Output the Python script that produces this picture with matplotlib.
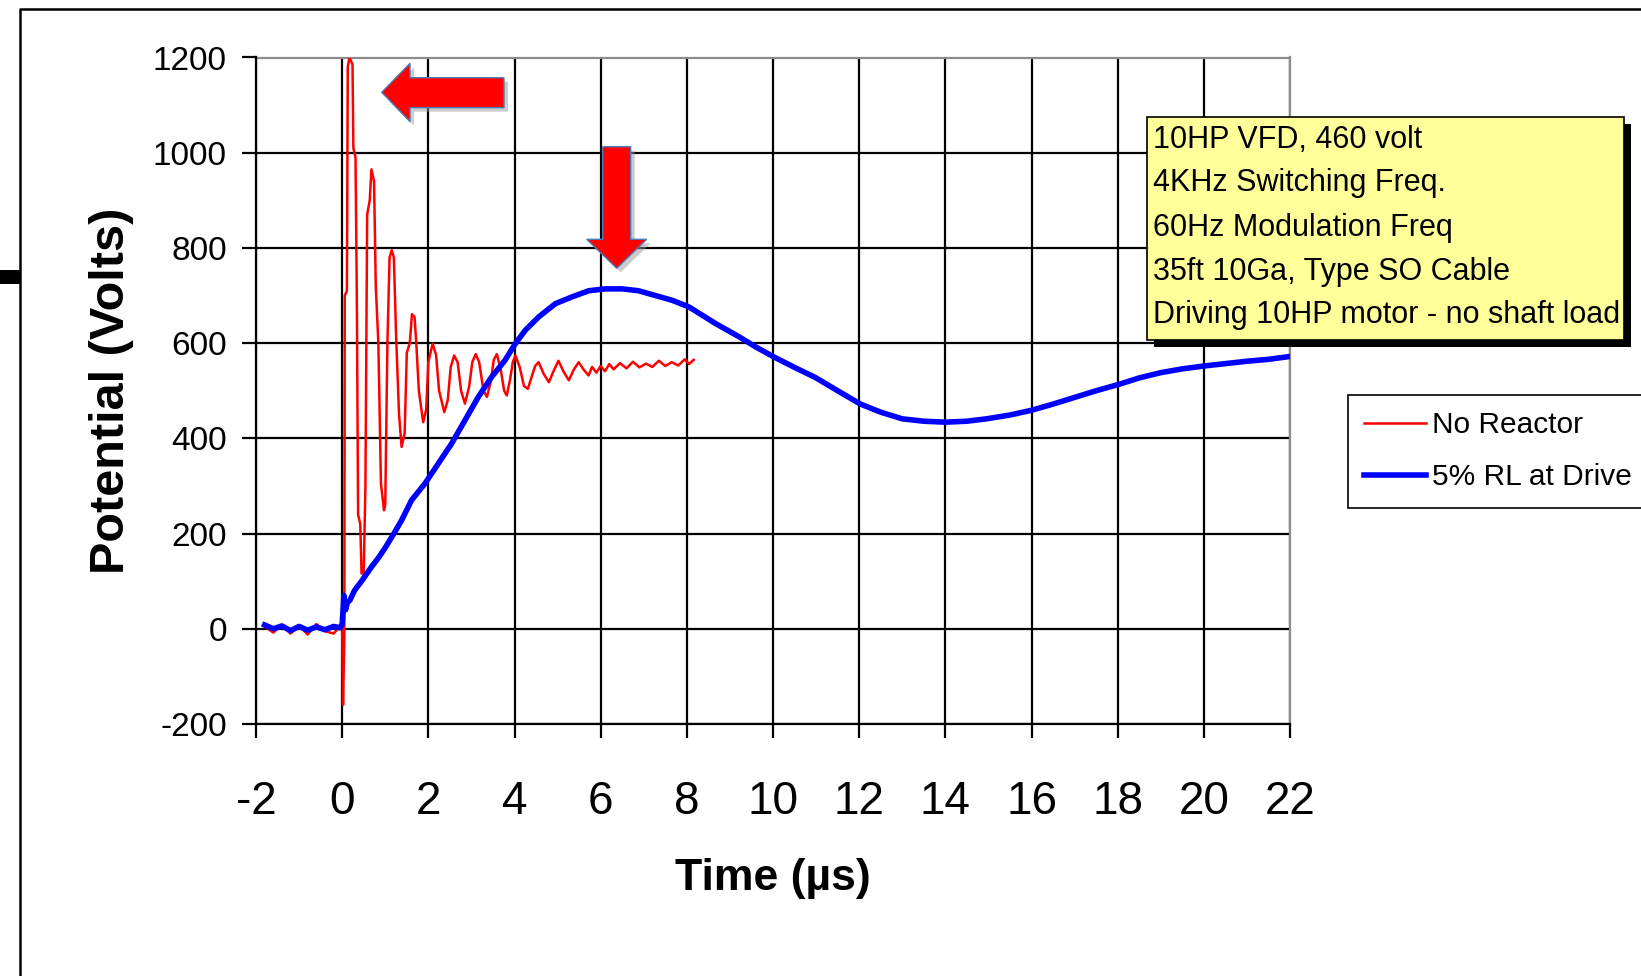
import matplotlib
matplotlib.use("Agg")
import matplotlib.pyplot as plt
from matplotlib.patches import Polygon, Rectangle
from matplotlib.lines import Line2D

plt.rcParams['font.family'] = ['Liberation Sans', 'DejaVu Sans']
plt.rcParams['axes.unicode_minus'] = False

# ---------------- data ----------------
red_t = [-1.8, -1.6, -1.4, -1.2, -1.0, -0.8, -0.6, -0.4, -0.2, -0.05, 0.0, 0.02, 0.05, 0.06,
         0.11, 0.13, 0.17, 0.24, 0.26, 0.31, 0.34, 0.37, 0.42, 0.45, 0.5, 0.54, 0.58, 0.64,
         0.68, 0.74, 0.78, 0.84, 0.9, 0.97, 1.0, 1.05, 1.1, 1.15, 1.2, 1.25, 1.32, 1.38, 1.45,
         1.5, 1.57, 1.62, 1.68, 1.72, 1.78, 1.88, 1.95, 2.0, 2.1, 2.18, 2.25, 2.37, 2.45, 2.52,
         2.6, 2.68, 2.76, 2.85, 2.95, 3.02, 3.1, 3.18, 3.28, 3.36, 3.45, 3.52, 3.59, 3.68, 3.76,
         3.82, 3.9, 3.96, 4.02, 4.12, 4.22, 4.31, 4.4, 4.48, 4.56, 4.68, 4.8, 4.9, 5.02, 5.14,
         5.26, 5.38, 5.49, 5.6, 5.72, 5.8, 5.9, 6.0, 6.1, 6.2, 6.3, 6.45, 6.6, 6.75, 6.9, 7.05,
         7.2, 7.35, 7.5, 7.65, 7.8, 7.95, 8.05, 8.16]
red_v = [5, -8, 8, -10, 6, -12, 10, -5, -10, 5, 0, -160, -20, 700,
         710, 1180, 1200, 1185, 1010, 990, 700, 240, 220, 116, 116, 300, 870, 900,
         965, 940, 720, 600, 305, 249, 260, 600, 780, 795, 780, 620, 450, 382, 410,
         580, 600, 661, 655, 600, 500, 434, 460, 560, 599, 575, 500, 455, 480, 550,
         574, 560, 500, 473, 510, 560, 577, 560, 500, 487, 520, 565, 577, 545, 500,
         490, 525, 560, 574, 550, 510, 504, 530, 552, 560, 535, 518, 540, 563, 540,
         522, 545, 560, 545, 532, 550, 538, 552, 541, 556, 545, 558, 547, 561, 549, 557,
         550, 563, 552, 560, 553, 566, 556, 565]

blue_t = [-1.8, -1.6, -1.4, -1.2, -1.0, -0.8, -0.6, -0.4, -0.2, -0.05, 0.0, 0.04, 0.08, 0.12,
          0.18, 0.29, 0.45, 0.68, 0.85, 0.99, 1.2, 1.38, 1.61, 1.92, 2.23, 2.54, 2.85, 3.16,
          3.47, 3.78, 4.02, 4.25, 4.56, 4.95, 5.33, 5.72, 6.1, 6.5, 6.88, 7.27, 7.66, 8.05,
          8.67, 9.2, 9.6, 10.0, 10.5, 10.98, 11.5, 12.03, 12.5, 13.0, 13.5, 14.0, 14.5, 14.95,
          15.5, 16.0, 16.5, 17.0, 17.5, 18.05, 18.5, 19.0, 19.5, 20.0, 20.5, 21.0, 21.5, 22.0]
blue_v = [8, 0, 6, -4, 5, -3, 4, -2, 5, 2, 10, 70, 40, 55,
          60, 81, 100, 130, 150, 169, 200, 228, 270, 305, 347, 389, 438, 487,
          529, 564, 599, 627, 655, 683, 697, 710, 714, 714, 710, 700, 690, 676,
          641, 614, 592, 572, 549, 528, 500, 472, 455, 441, 436, 434, 436, 441,
          449, 459, 472, 486, 500, 514, 527, 538, 546, 552, 557, 562, 566, 572]

series_labels = ["No Reactor", "5% RL at Drive"]
x_ticks = [-2, 0, 2, 4, 6, 8, 10, 12, 14, 16, 18, 20, 22]
y_ticks = [-200, 0, 200, 400, 600, 800, 1000, 1200]
note_lines = ["10HP VFD, 460 volt", "4KHz Switching Freq.", "60Hz Modulation Freq",
              "35ft 10Ga, Type SO Cable", "Driving 10HP motor - no shaft load"]

# ---------------- figure ----------------
W, H = 1641, 976
fig = plt.figure(figsize=(W / 100, H / 100), dpi=100)

def fx(x):
    return x / W

def fy(y):
    return 1 - y / H

ax_l, ax_r, ax_t, ax_b = 256, 1290, 57.5, 724
ax = fig.add_axes([fx(ax_l), fy(ax_b), (ax_r - ax_l) / W, (ax_b - ax_t) / H])

ax.plot(red_t, red_v, color='#FF0000', lw=1.8, label=series_labels[0], zorder=3)
ax.plot(blue_t, blue_v, color='#0000FF', lw=4.0, label=series_labels[1], zorder=4)

ax.set_xlim(-2, 22)
ax.set_ylim(-200, 1200)
ax.set_xticks(x_ticks)
ax.set_yticks(y_ticks)
ax.set_axisbelow(True)
ax.grid(True, color='black', lw=1.6)
for s in ['top', 'right']:
    ax.spines[s].set_color('#8C8C8C')
    ax.spines[s].set_linewidth(1.6)
for s in ['left', 'bottom']:
    ax.spines[s].set_color('black')
    ax.spines[s].set_linewidth(1.6)
    ax.spines[s].set_zorder(5)
ax.tick_params(axis='y', direction='out', length=10, width=1.6, pad=11, labelsize=24)
ax.tick_params(axis='x', direction='out', length=10, width=1.6, pad=30, labelsize=33)

ax.set_ylabel("Potential (Volts)", fontsize=35, fontweight='bold')
ax.yaxis.set_label_coords((134 - ax_l) / (ax_r - ax_l), 0.5)
ax.set_xlabel("Time (\u00b5s)", fontsize=32, fontweight='bold')
ax.xaxis.set_label_coords(0.5, (ax_b - 858) / (ax_b - ax_t))

leg = ax.legend(loc='upper left', bbox_to_anchor=(fx(1348), fy(395)),
                bbox_transform=fig.transFigure, borderaxespad=0, fontsize=21.5,
                fancybox=False, framealpha=1, edgecolor='black', handlelength=2.05,
                handletextpad=0.22, borderpad=0.55, labelspacing=0.8)
leg.get_frame().set_linewidth(1.2)

# ---------------- annotation box ----------------
bx0, bx1, by0, by1 = 1147, 1624, 117, 340
fig.patches.append(Rectangle((fx(bx0 + 7), fy(by1 + 7)), (bx1 - bx0) / W, (by1 - by0) / H,
                             transform=fig.transFigure, facecolor='black', edgecolor='none', zorder=6))
fig.patches.append(Rectangle((fx(bx0), fy(by1)), (bx1 - bx0) / W, (by1 - by0) / H,
                             transform=fig.transFigure, facecolor='#FFFF99', edgecolor='black',
                             lw=1.2, zorder=7))
line_y = [140, 183, 228, 272, 315]
for txt, yy in zip(note_lines, line_y):
    fig.text(fx(1153), fy(yy), txt, fontsize=22, ha='left', va='center', zorder=8)

# ---------------- arrows ----------------
left_arrow = [(381.7, 92.3), (410, 63.3), (410, 77.7), (504, 77.7), (504, 107.7), (410, 107.7), (410, 121.7)]
down_arrow = [(616.7, 268.3), (586.7, 239.3), (602.7, 239.3), (602.7, 146.7), (630.7, 146.7),
              (630.7, 239.3), (646.7, 239.3)]
for pts in (left_arrow, down_arrow):
    shadow = [(fx(x + 4), fy(y + 4)) for x, y in pts]
    fig.patches.append(Polygon(shadow, closed=True, transform=fig.transFigure,
                               facecolor='#9A9A9A', edgecolor='none', alpha=0.5, zorder=6))
    fig.patches.append(Polygon([(fx(x), fy(y)) for x, y in pts], closed=True,
                               transform=fig.transFigure, facecolor='#FF0000',
                               edgecolor='#4A7EBB', lw=1.0, zorder=7))

# ---------------- slide frame ----------------
fig.add_artist(Line2D([fx(20), fx(20), fx(W)], [fy(H), fy(9), fy(9)], transform=fig.transFigure,
                      color='black', lw=1.8))
fig.patches.append(Rectangle((fx(0), fy(284)), fx(20), 14 / H, transform=fig.transFigure,
                             facecolor='black', edgecolor='none'))

fig.savefig("out.png", dpi=100)
